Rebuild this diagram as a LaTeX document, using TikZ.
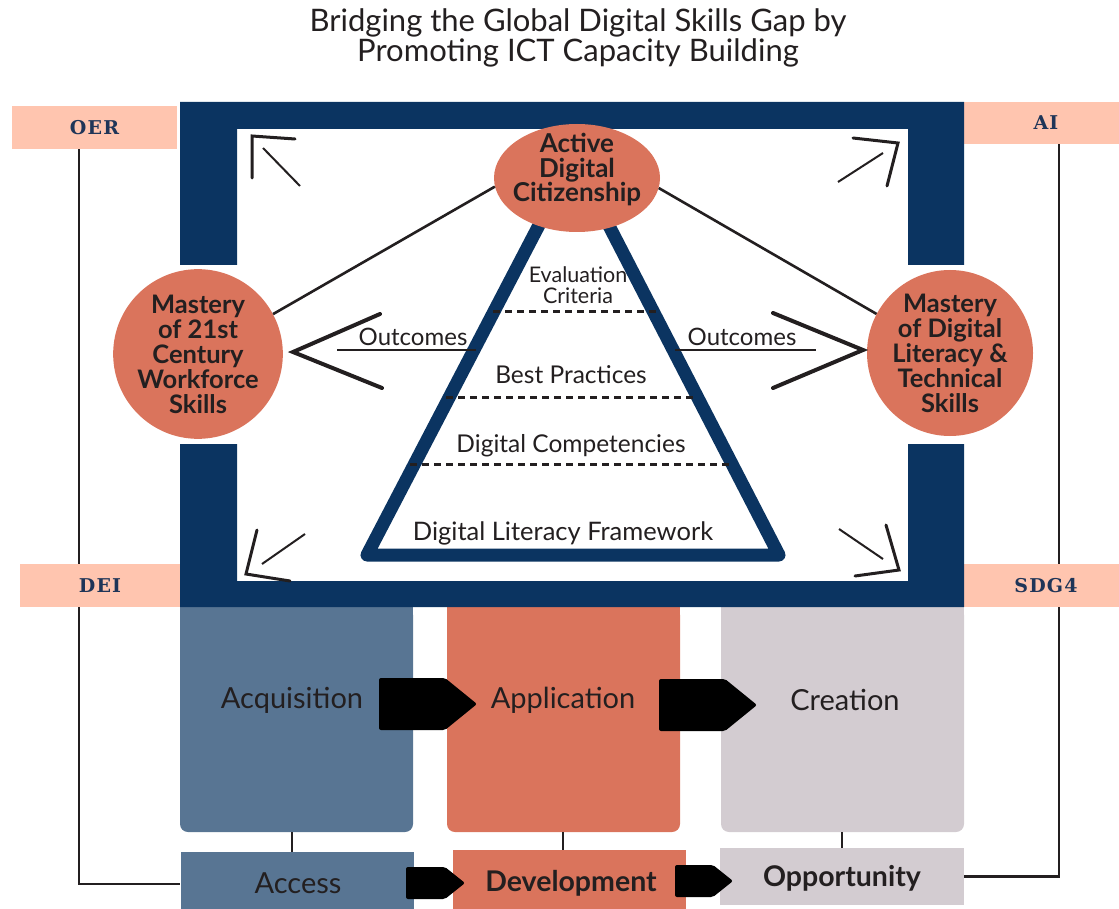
\documentclass[tikz,border=0pt]{standalone}
\usepackage{fontspec}
\setmainfont{Lato}
\newfontfamily\slab[LetterSpace=6]{DejaVu Serif}
\usetikzlibrary{shapes.geometric}
\definecolor{navy}{HTML}{0B3461}
\definecolor{peach}{HTML}{FFC5AF}
\definecolor{terra}{HTML}{DA745C}
\definecolor{steel}{HTML}{587593}
\definecolor{mauve}{HTML}{D3CCD1}
\definecolor{ink}{HTML}{231F20}
\definecolor{labink}{HTML}{1F3558}
\begin{document}
\begin{tikzpicture}[x=1pt,y=-1pt,
  txt/.style={inner sep=0pt, text=ink, align=center},
  tagbox/.style={fill=peach, inner sep=0pt, minimum height=43pt, text=labink,
    font=\slab\bfseries\fontsize{19}{19}\selectfont},
  bigbox/.style={inner sep=0pt, minimum width=233pt, minimum height=225pt, rounded corners=8pt},
  lowbox/.style={inner sep=0pt, minimum width=233pt},
  skill/.style={circle, fill=terra, inner sep=0pt, minimum size=166pt, align=center, text=ink,
    font=\bfseries\fontsize{25.5}{25}\selectfont},
  conn/.style={draw=ink, line width=2.6pt},
  thin/.style={draw=ink, line width=2pt},
  headline/.style={draw=ink, line width=3pt, line cap=round, line join=miter},
  chev/.style={draw=ink, line width=4pt, line cap=round, line join=miter},
  divider/.style={draw=ink, line width=3pt, dash pattern=on 7pt off 5pt},
  pointer/.style={fill=black, rounded corners=2pt}
]
\useasboundingbox (0,0) rectangle (1119,909);

% title
\node[txt, font=\fontsize{31}{30}\selectfont] (title) at (578,38)
  {Bridging the Global Digital Skills Gap by\\Promoting ICT Capacity Building};

% side labels (drawn with their lines)
\node[tagbox, minimum width=165pt] (oer) at (94.5,127.5) {OER};
\node[tagbox, minimum width=164pt, minimum height=42pt] (ai) at (1046,123) {AI};

% bottom row boxes
\node[bigbox, fill=steel] (acq) at (296.5,719.5) {};
\node[bigbox, fill=terra] (app) at (563.5,719.5) {};
\node[bigbox, fill=mauve, minimum width=243pt] (cre) at (842.5,719.5) {};
\fill[steel] (180,607) rectangle (413,640);
\fill[terra] (447,607) rectangle (680,640);
\fill[mauve] (721,607) rectangle (964,640);

\node[lowbox, fill=steel, minimum height=64pt] (acc) at (297,884) {};
\node[lowbox, fill=terra, minimum height=66pt] (dev) at (569.5,883) {};
\node[lowbox, fill=mauve, minimum width=244pt, minimum height=57pt] (opp) at (841.5,876.5) {};

\node[txt, font=\fontsize{29}{29}\selectfont] (acqt) at (292,700) {Acquisition};
\node[txt, font=\fontsize{29}{29}\selectfont] (appt) at (563,700) {Application};
\node[txt, font=\fontsize{29}{29}\selectfont] (cret) at (845,700) {Creation};
\node[txt, font=\fontsize{29}{29}\selectfont] (acct) at (298,883) {Access};
\node[txt, font=\bfseries\fontsize{28.5}{28}\selectfont] (devt) at (571,883) {Development};
\node[txt, font=\bfseries\fontsize{28.5}{28}\selectfont] (oppt) at (842,878) {Opportunity};

% vertical links between rows
\draw[conn] (acq.south -| 292,0) -- (acc.north -| 292,0);
\draw[conn] (app.south -| 563,0) -- (dev.north -| 563,0);
\draw[conn] (cre.south -| 842,0) -- (opp.north -| 842,0);

% outer links
\draw[conn] ([xshift=-15.5pt]oer.south) |- (acc.west);
\draw[conn] ([xshift=13pt]ai.south) |- (opp.east);

\node[tagbox, minimum width=160pt] (dei) at (100,585.5) {DEI};
\node[tagbox, minimum width=164pt] (sdg) at (1046,585.5) {SDG4};

% pointers
\fill[pointer] (379,678) -- (445,678) -- (477,704) -- (445,730) -- (379,730) -- cycle;
\fill[pointer] (659,679) -- (725,679) -- (757,705) -- (725,731) -- (659,731) -- cycle;
\fill[pointer] (406,867) -- (445,867) -- (465,883) -- (445,899) -- (406,899) -- cycle;
\fill[pointer] (675,865) -- (713,865) -- (733,881) -- (713,897) -- (675,897) -- cycle;

% navy frame
\fill[navy] (180,102) rectangle (964,129)
  (180,129) rectangle (237,265)
  (908,129) rectangle (964,265)
  (180,444) rectangle (237,607)
  (908,444) rectangle (964,607)
  (180,581) rectangle (964,607);

% pyramid
\draw[navy, line width=13pt, line join=round] (574,158) -- (367,555) -- (779,555) -- cycle;
\draw[divider] (493,312) -- (657,312);
\draw[divider] (446,397) -- (694,397);
\draw[divider] (410,464) -- (730,464);
\node[txt, font=\fontsize{21.5}{21}\selectfont] (evc) at (578,285) {Evaluation\\Criteria};
\node[txt, font=\fontsize{24.5}{24}\selectfont] (bp) at (571,375) {Best Practices};
\node[txt, font=\fontsize{24.5}{24}\selectfont] (dc) at (571,446) {Digital Competencies};
\node[txt, font=\fontsize{25.5}{25}\selectfont] (dlf) at (563,533) {Digital Literacy Framework};

% skills circles
\node[skill] (lc) at (198,354) {Mastery\\of 21st\\Century\\Workforce\\Skills};
\node[skill] (rc) at (950,353) {Mastery\\of Digital\\Literacy \&\\Technical\\Skills};
\node[ellipse, fill=terra, inner sep=0pt, minimum width=166pt, minimum height=108pt] (adc) at (577,178) {};
\node[txt, font=\bfseries\fontsize{26}{24.5}\selectfont] (adct) at (577,170) {Active\\Digital\\Citizenship};

\draw[conn] (lc.28) -- (adc.186);
\draw[conn] (adc.-7) -- (rc.152);

% outcomes
\node[txt, font=\fontsize{24}{24}\selectfont] (outl) at (413,337) {Outcomes};
\node[txt, font=\fontsize{24}{24}\selectfont] (outr) at (742,337) {Outcomes};
\draw[thin] (476,350) -- (337,350);
\draw[thin] (675,350) -- (816,350);
\draw[chev] (380,314) -- (293,352) -- (382,388);
\draw[chev] (773,313) -- (863,350) -- (773,388);

% corner arrows
\draw[thin] (300,186) -- (263,148);
\draw[headline] (295,139) -- (252,136) -- (252,178);
\draw[thin] (838,182) -- (883,153);
\draw[headline] (853,138) -- (898,143) -- (887,186);
\draw[thin] (305,534) -- (262,564);
\draw[headline] (257,530) -- (246,574) -- (290,581);
\draw[thin] (839,529) -- (883,559);
\draw[headline] (886,525) -- (899,570) -- (855,576);
\end{tikzpicture}
\end{document}
